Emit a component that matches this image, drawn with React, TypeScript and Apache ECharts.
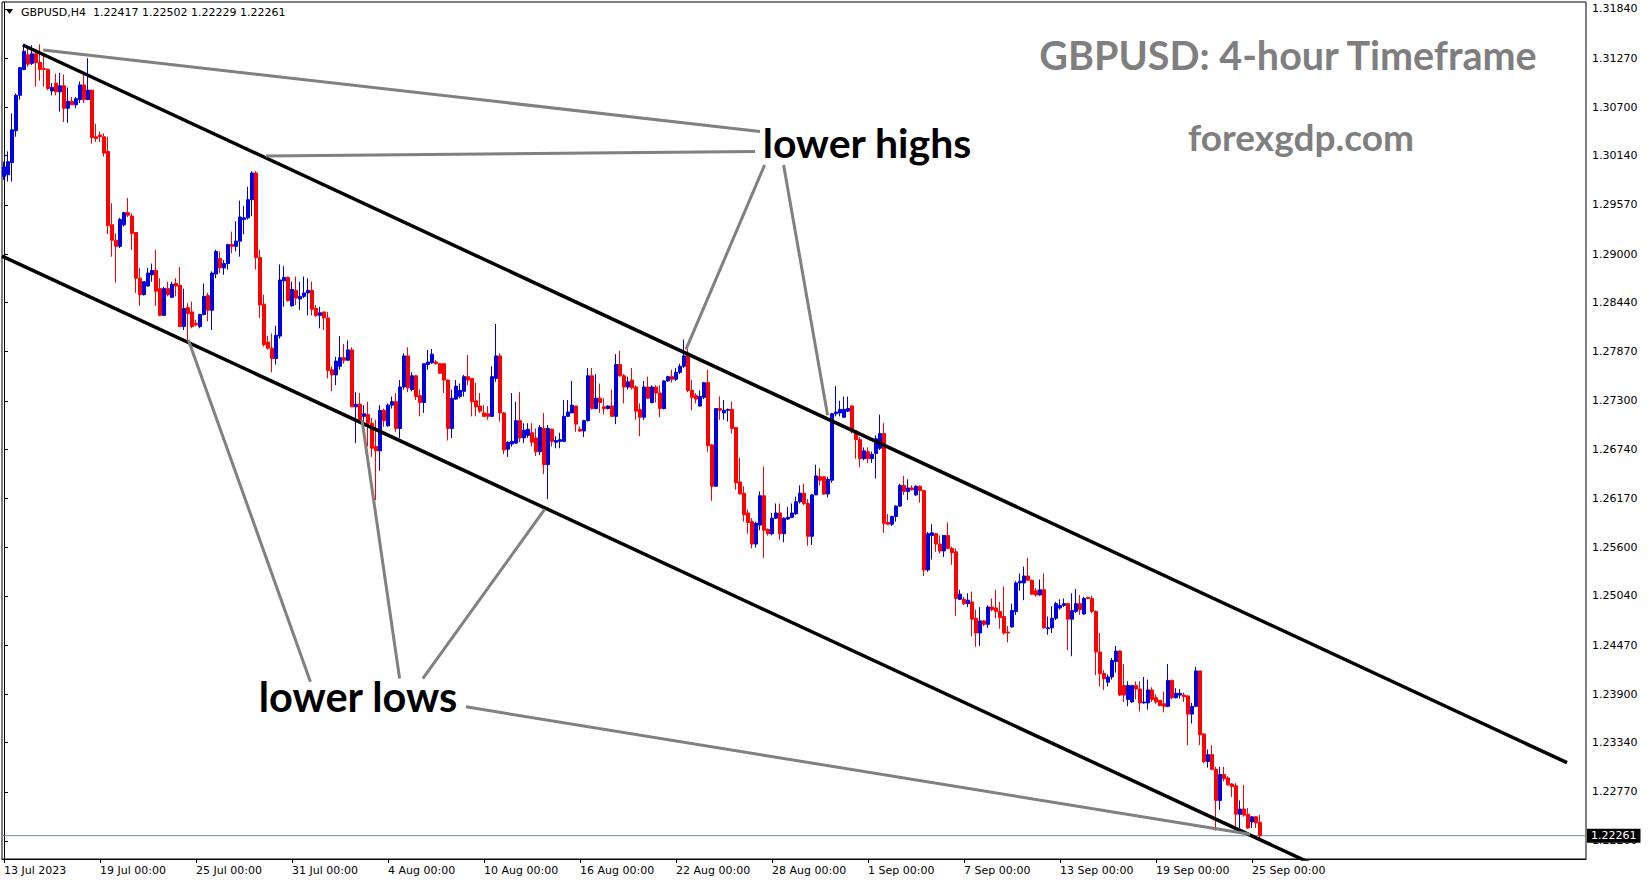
import React, { useEffect, useRef } from "react";
import * as echarts from "echarts";

// ---- Candle data: [open, high, low, close], H4, grouped by the x-axis label they start at ----
const jul13 = [
  [1.2990,1.3007,1.2986,1.3001],[1.2992,1.3019,1.2984,1.3007],[1.3006,1.3063,1.2984,1.3044],[1.3043,1.3086,1.3036,1.3084],
  [1.3084,1.3117,1.3079,1.3116],[1.3114,1.3142,1.3113,1.3135],[1.3131,1.3140,1.3117,1.3120],[1.3121,1.3142,1.3119,1.3132],
  [1.3132,1.3137,1.3094,1.3122],[1.3122,1.3143,1.3101,1.3114],[1.3115,1.3133,1.3094,1.3114],[1.3114,1.3115,1.3090,1.3092],
  [1.3089,1.3098,1.3084,1.3093],[1.3098,1.3109,1.3084,1.3088],[1.3088,1.3110,1.3065,1.3095],[1.3095,1.3108,1.3053,1.3069],
  [1.3069,1.3093,1.3052,1.3077],[1.3077,1.3082,1.3073,1.3073],[1.3073,1.3082,1.3069,1.3080],[1.3079,1.3100,1.3075,1.3096],
  [1.3096,1.3108,1.3075,1.3079],[1.3079,1.3127,1.3079,1.3090],[1.3090,1.3090,1.3028,1.3035],[1.3036,1.3051,1.3030,1.3034],
];
const jul19 = [
  [1.3038,1.3042,1.3030,1.3036],[1.3036,1.3040,1.3013,1.3017],[1.3019,1.3036,1.2923,1.2933],[1.2934,1.2959,1.2897,1.2916],
  [1.2916,1.2924,1.2867,1.2909],[1.2909,1.2942,1.2907,1.2940],[1.2934,1.2949,1.2932,1.2948],[1.2948,1.2965,1.2943,1.2945],
  [1.2944,1.2947,1.2905,1.2924],[1.2925,1.2925,1.2855,1.2872],[1.2872,1.2884,1.2840,1.2853],[1.2853,1.2868,1.2852,1.2868],
  [1.2863,1.2884,1.2862,1.2878],[1.2876,1.2889,1.2868,1.2881],[1.2881,1.2905,1.2840,1.2857],[1.2860,1.2872,1.2828,1.2829],
  [1.2829,1.2862,1.2829,1.2860],[1.2860,1.2868,1.2851,1.2853],[1.2850,1.2868,1.2849,1.2865],[1.2866,1.2872,1.2851,1.2863],
  [1.2864,1.2885,1.2816,1.2816],[1.2816,1.2860,1.2812,1.2837],[1.2838,1.2843,1.2799,1.2831],[1.2833,1.2845,1.2814,1.2816],
];
const jul25 = [
  [1.2820,1.2824,1.2816,1.2818],[1.2816,1.2831,1.2814,1.2830],[1.2830,1.2866,1.2829,1.2851],[1.2852,1.2855,1.2822,1.2835],
  [1.2835,1.2880,1.2812,1.2878],[1.2877,1.2905,1.2872,1.2903],[1.2895,1.2903,1.2878,1.2884],[1.2884,1.2893,1.2876,1.2889],
  [1.2889,1.2912,1.2882,1.2911],[1.2911,1.2926,1.2901,1.2909],[1.2909,1.2938,1.2903,1.2915],[1.2915,1.2962,1.2897,1.2943],
  [1.2940,1.2956,1.2923,1.2942],[1.2942,1.2978,1.2940,1.2963],[1.2963,1.2996,1.2944,1.2994],[1.2994,1.2996,1.2882,1.2896],
  [1.2896,1.2905,1.2826,1.2841],[1.2842,1.2853,1.2793,1.2795],[1.2798,1.2805,1.2789,1.2791],[1.2791,1.2808,1.2763,1.2779],
  [1.2779,1.2817,1.2772,1.2806],[1.2805,1.2888,1.2802,1.2870],[1.2869,1.2886,1.2839,1.2873],[1.2873,1.2874,1.2845,1.2846],
];
const jul31 = [
  [1.2840,1.2868,1.2839,1.2859],[1.2858,1.2874,1.2841,1.2849],[1.2848,1.2868,1.2835,1.2851],[1.2851,1.2874,1.2849,1.2855],
  [1.2855,1.2872,1.2829,1.2858],[1.2858,1.2868,1.2829,1.2836],[1.2837,1.2841,1.2827,1.2829],[1.2829,1.2839,1.2814,1.2832],
  [1.2833,1.2833,1.2812,1.2826],[1.2826,1.2833,1.2756,1.2765],[1.2766,1.2770,1.2741,1.2760],[1.2760,1.2781,1.2748,1.2776],
  [1.2770,1.2805,1.2766,1.2780],[1.2780,1.2796,1.2773,1.2777],[1.2777,1.2800,1.2777,1.2789],[1.2789,1.2792,1.2723,1.2723],
  [1.2723,1.2740,1.2681,1.2726],[1.2726,1.2739,1.2704,1.2708],[1.2712,1.2725,1.2702,1.2715],[1.2714,1.2729,1.2677,1.2704],
  [1.2704,1.2710,1.2665,1.2675],[1.2677,1.2708,1.2615,1.2672],[1.2672,1.2725,1.2649,1.2719],[1.2719,1.2721,1.2700,1.2707],
];
const aug04 = [
  [1.2701,1.2727,1.2700,1.2725],[1.2725,1.2735,1.2721,1.2729],[1.2729,1.2739,1.2694,1.2698],[1.2698,1.2754,1.2687,1.2746],
  [1.2746,1.2785,1.2743,1.2782],[1.2782,1.2792,1.2740,1.2745],[1.2743,1.2763,1.2741,1.2759],[1.2759,1.2760,1.2731,1.2735],
  [1.2736,1.2743,1.2712,1.2728],[1.2728,1.2773,1.2716,1.2773],[1.2772,1.2789,1.2766,1.2775],[1.2774,1.2790,1.2773,1.2784],
  [1.2775,1.2777,1.2772,1.2773],[1.2773,1.2773,1.2761,1.2762],[1.2773,1.2773,1.2739,1.2754],[1.2754,1.2755,1.2684,1.2698],
  [1.2698,1.2743,1.2687,1.2733],[1.2732,1.2754,1.2731,1.2747],[1.2735,1.2750,1.2733,1.2742],[1.2741,1.2760,1.2735,1.2758],
  [1.2758,1.2783,1.2748,1.2754],[1.2756,1.2756,1.2712,1.2729],[1.2730,1.2751,1.2712,1.2723],[1.2724,1.2739,1.2716,1.2718],
];
const aug10 = [
  [1.2716,1.2725,1.2712,1.2712],[1.2715,1.2724,1.2708,1.2712],[1.2712,1.2770,1.2712,1.2758],[1.2756,1.2819,1.2752,1.2782],
  [1.2782,1.2785,1.2706,1.2716],[1.2716,1.2717,1.2668,1.2673],[1.2674,1.2683,1.2665,1.2682],[1.2680,1.2739,1.2677,1.2683],
  [1.2681,1.2729,1.2680,1.2707],[1.2707,1.2740,1.2682,1.2687],[1.2687,1.2704,1.2681,1.2696],[1.2690,1.2704,1.2687,1.2697],
  [1.2693,1.2704,1.2677,1.2682],[1.2687,1.2698,1.2666,1.2671],[1.2671,1.2702,1.2667,1.2699],[1.2698,1.2716,1.2645,1.2656],
  [1.2656,1.2702,1.2616,1.2698],[1.2697,1.2698,1.2677,1.2683],[1.2682,1.2689,1.2675,1.2684],[1.2683,1.2693,1.2675,1.2685],
  [1.2683,1.2731,1.2682,1.2712],[1.2712,1.2731,1.2712,1.2717],[1.2716,1.2753,1.2716,1.2725],[1.2724,1.2724,1.2694,1.2703],
];
const aug16 = [
  [1.2697,1.2700,1.2694,1.2695],[1.2695,1.2708,1.2688,1.2707],[1.2707,1.2768,1.2706,1.2759],[1.2759,1.2768,1.2720,1.2721],
  [1.2721,1.2761,1.2720,1.2733],[1.2733,1.2750,1.2716,1.2728],[1.2723,1.2733,1.2714,1.2721],[1.2721,1.2725,1.2720,1.2724],
  [1.2724,1.2743,1.2712,1.2712],[1.2712,1.2784,1.2703,1.2772],[1.2772,1.2788,1.2758,1.2759],[1.2759,1.2761,1.2727,1.2746],
  [1.2746,1.2758,1.2743,1.2752],[1.2754,1.2768,1.2743,1.2745],[1.2746,1.2748,1.2708,1.2718],[1.2720,1.2727,1.2689,1.2711],
  [1.2711,1.2753,1.2708,1.2746],[1.2746,1.2758,1.2732,1.2733],[1.2728,1.2748,1.2727,1.2746],[1.2746,1.2748,1.2728,1.2739],
  [1.2739,1.2748,1.2711,1.2721],[1.2721,1.2754,1.2720,1.2753],[1.2753,1.2759,1.2752,1.2758],[1.2758,1.2766,1.2751,1.2755],
];
const aug22 = [
  [1.2755,1.2768,1.2753,1.2763],[1.2763,1.2773,1.2761,1.2770],[1.2770,1.2801,1.2768,1.2782],[1.2785,1.2790,1.2740,1.2742],
  [1.2742,1.2754,1.2719,1.2734],[1.2736,1.2739,1.2727,1.2732],[1.2724,1.2742,1.2723,1.2735],[1.2734,1.2752,1.2732,1.2751],
  [1.2751,1.2766,1.2671,1.2678],[1.2679,1.2680,1.2614,1.2631],[1.2631,1.2721,1.2631,1.2721],[1.2721,1.2735,1.2708,1.2719],
  [1.2716,1.2731,1.2708,1.2719],[1.2719,1.2721,1.2706,1.2720],[1.2720,1.2729,1.2692,1.2698],[1.2699,1.2699,1.2627,1.2635],
  [1.2636,1.2664,1.2622,1.2622],[1.2623,1.2631,1.2590,1.2598],[1.2600,1.2604,1.2576,1.2589],[1.2590,1.2594,1.2559,1.2564],
  [1.2564,1.2590,1.2560,1.2588],[1.2586,1.2625,1.2580,1.2620],[1.2620,1.2654,1.2548,1.2580],[1.2581,1.2582,1.2574,1.2576],
];
const aug28 = [
  [1.2576,1.2600,1.2574,1.2594],[1.2594,1.2611,1.2593,1.2600],[1.2600,1.2611,1.2569,1.2576],[1.2576,1.2595,1.2566,1.2594],
  [1.2593,1.2607,1.2592,1.2595],[1.2595,1.2611,1.2594,1.2600],[1.2599,1.2619,1.2598,1.2613],[1.2613,1.2632,1.2611,1.2623],
  [1.2623,1.2634,1.2609,1.2611],[1.2611,1.2616,1.2562,1.2573],[1.2573,1.2622,1.2563,1.2621],[1.2621,1.2656,1.2621,1.2643],
  [1.2642,1.2652,1.2632,1.2638],[1.2642,1.2643,1.2621,1.2622],[1.2622,1.2642,1.2618,1.2639],[1.2638,1.2716,1.2635,1.2715],
  [1.2715,1.2747,1.2712,1.2717],[1.2716,1.2730,1.2712,1.2720],[1.2711,1.2735,1.2710,1.2720],[1.2718,1.2735,1.2717,1.2721],
  [1.2724,1.2725,1.2692,1.2695],[1.2695,1.2696,1.2663,1.2685],[1.2685,1.2688,1.2653,1.2663],[1.2663,1.2676,1.2661,1.2672],
];
const sep01 = [
  [1.2671,1.2676,1.2658,1.2663],[1.2663,1.2671,1.2658,1.2668],[1.2669,1.2690,1.2640,1.2686],[1.2675,1.2714,1.2673,1.2692],
  [1.2692,1.2704,1.2577,1.2588],[1.2589,1.2599,1.2586,1.2587],[1.2587,1.2597,1.2585,1.2596],[1.2596,1.2609,1.2590,1.2608],
  [1.2608,1.2634,1.2607,1.2632],[1.2632,1.2643,1.2621,1.2625],[1.2625,1.2639,1.2615,1.2629],[1.2629,1.2632,1.2626,1.2627],
  [1.2621,1.2632,1.2620,1.2631],[1.2631,1.2632,1.2612,1.2626],[1.2626,1.2627,1.2527,1.2534],[1.2534,1.2578,1.2532,1.2576],
  [1.2574,1.2587,1.2546,1.2577],[1.2576,1.2577,1.2555,1.2564],[1.2564,1.2574,1.2553,1.2556],[1.2556,1.2574,1.2549,1.2574],
  [1.2574,1.2589,1.2558,1.2559],[1.2559,1.2561,1.2540,1.2554],[1.2555,1.2559,1.2481,1.2501],[1.2500,1.2511,1.2499,1.2506],
];
const sep07 = [
  [1.2500,1.2503,1.2493,1.2495],[1.2495,1.2507,1.2491,1.2499],[1.2497,1.2509,1.2457,1.2477],[1.2478,1.2488,1.2445,1.2461],
  [1.2461,1.2491,1.2446,1.2475],[1.2475,1.2476,1.2469,1.2471],[1.2471,1.2493,1.2467,1.2491],[1.2491,1.2501,1.2486,1.2488],
  [1.2490,1.2511,1.2478,1.2486],[1.2486,1.2497,1.2466,1.2479],[1.2480,1.2515,1.2459,1.2461],[1.2462,1.2469,1.2450,1.2461],
  [1.2468,1.2495,1.2467,1.2487],[1.2486,1.2521,1.2482,1.2519],[1.2519,1.2530,1.2510,1.2521],[1.2519,1.2538,1.2499,1.2527],
  [1.2527,1.2548,1.2521,1.2522],[1.2522,1.2523,1.2505,1.2506],[1.2510,1.2513,1.2503,1.2505],[1.2505,1.2523,1.2504,1.2511],
  [1.2511,1.2530,1.2466,1.2467],[1.2466,1.2480,1.2459,1.2467],[1.2467,1.2492,1.2461,1.2478],[1.2478,1.2497,1.2476,1.2495],
];
const sep13 = [
  [1.2490,1.2500,1.2488,1.2493],[1.2493,1.2501,1.2491,1.2495],[1.2495,1.2496,1.2441,1.2477],[1.2477,1.2507,1.2434,1.2487],
  [1.2486,1.2512,1.2484,1.2495],[1.2495,1.2505,1.2482,1.2488],[1.2483,1.2503,1.2482,1.2501],[1.2502,1.2503,1.2500,1.2501],
  [1.2501,1.2504,1.2484,1.2486],[1.2486,1.2487,1.2412,1.2439],[1.2439,1.2461,1.2399,1.2414],[1.2414,1.2418,1.2395,1.2408],
  [1.2404,1.2413,1.2399,1.2410],[1.2410,1.2432,1.2407,1.2429],[1.2428,1.2446,1.2415,1.2440],[1.2440,1.2441,1.2388,1.2389],
  [1.2400,1.2425,1.2381,1.2389],[1.2384,1.2405,1.2376,1.2400],[1.2381,1.2401,1.2380,1.2400],[1.2400,1.2405,1.2384,1.2396],
  [1.2396,1.2405,1.2370,1.2380],[1.2380,1.2410,1.2379,1.2381],[1.2380,1.2407,1.2372,1.2395],[1.2395,1.2398,1.2381,1.2384],
];
const sep19 = [
  [1.2386,1.2390,1.2379,1.2381],[1.2383,1.2383,1.2376,1.2377],[1.2379,1.2393,1.2369,1.2376],[1.2376,1.2425,1.2375,1.2406],
  [1.2406,1.2407,1.2384,1.2386],[1.2386,1.2397,1.2385,1.2391],[1.2389,1.2396,1.2385,1.2391],[1.2389,1.2392,1.2381,1.2387],
  [1.2388,1.2389,1.2331,1.2367],[1.2367,1.2380,1.2356,1.2376],[1.2376,1.2422,1.2375,1.2417],[1.2417,1.2417,1.2331,1.2343],
  [1.2344,1.2345,1.2310,1.2312],[1.2312,1.2326,1.2305,1.2320],[1.2320,1.2331,1.2302,1.2303],[1.2303,1.2306,1.2232,1.2267],
  [1.2267,1.2306,1.2256,1.2297],[1.2297,1.2306,1.2289,1.2292],[1.2293,1.2295,1.2284,1.2285],[1.2286,1.2287,1.2271,1.2283],
  [1.2284,1.2287,1.2234,1.2251],[1.2251,1.2267,1.2235,1.2257],[1.2257,1.2285,1.2248,1.2250],[1.2251,1.2258,1.2234,1.2235],
];
const sep25 = [
  [1.2242,1.2249,1.2235,1.2248],[1.2248,1.2249,1.2235,1.2241],[1.22417,1.22502,1.22229,1.22261],
];

// ---- Axis ticks ----
const yTicks = [1.3184,1.3127,1.307,1.3014,1.2957,1.29,1.2844,1.2787,1.273,1.2674,1.2617,1.256,1.2504,1.2447,1.239,1.2334,1.2277,1.222];
const xTickIndex = [0,24,48,72,96,120,144,168,192,216,240,264,288,312];
const xTickLabels = ["13 Jul 2023","19 Jul 00:00","25 Jul 00:00","31 Jul 00:00","4 Aug 00:00","10 Aug 00:00","16 Aug 00:00","22 Aug 00:00","28 Aug 00:00","1 Sep 00:00","7 Sep 00:00","13 Sep 00:00","19 Sep 00:00","25 Sep 00:00"];
const totalSlots = 396;
const priceMin = 1.21991;
const priceMax = 1.31921;

// ---- Drawn trend lines, in [candle index, price] ----
const upperChannel = [[4.7, 1.31423], [390.75, 1.23107]];
const lowerChannel = [[-0.5, 1.28977], [330, 1.21871]];
const lowerHighsLines = [
  [[9.8, 1.31365], [189, 1.3042]],
  [[65.5, 1.30136], [187.75, 1.3019]],
  [[190.15, 1.30032], [170.5, 1.27896]],
  [[194.9, 1.30032], [205.9, 1.27134]],
];
const lowerLowsLines = [
  [[46.1, 1.28004], [76.6, 1.24046]],
  [[89.5, 1.27077], [98.9, 1.24082]],
  [[135.2, 1.26045], [104.7, 1.24082]],
  [[115.5, 1.23754], [311.5, 1.22278]],
];

const ohlc = [...jul13, ...jul19, ...jul25, ...jul31, ...aug04, ...aug10, ...aug16, ...aug22, ...aug28, ...sep01, ...sep07, ...sep13, ...sep19, ...sep25];

function buildOption() {
  const categories = Array.from({ length: totalSlots }, (_, i) => String(i));
  const labelAt = new Map<number, string>(xTickIndex.map((i, k) => [i, xTickLabels[k]]));
  const last = ohlc[ohlc.length - 1];
  const lastClose = last[3];
  const header = "GBPUSD,H4  " + last.map((v) => v.toFixed(5)).join(" ");
  const bull = "#0000dd";
  const bear = "#ff0000";
  const font = "DejaVu Sans";
  const lineSeries = (data: number[][], color: string, width: number) => ({
    type: "line",
    xAxisIndex: 1,
    yAxisIndex: 0,
    data,
    symbol: "none",
    showSymbol: false,
    silent: true,
    clip: true,
    z: 5,
    lineStyle: { color, width, cap: "butt" },
  });
  const textStyle = (text: string, size: number, fill: string) => ({
    text,
    font: `bold ${size}px Lato`,
    fill,
    align: "center",
    textAlign: "center",
    verticalAlign: "middle",
    textVerticalAlign: "middle",
  });
  return {
    animation: false,
    backgroundColor: "#ffffff",
    grid: { left: 2, top: 2, right: 63, bottom: 25, show: true, borderColor: "#000", borderWidth: 1, backgroundColor: "transparent" },
    xAxis: [
      {
        type: "category",
        data: categories,
        boundaryGap: true,
        axisLine: { show: true, lineStyle: { color: "#000", width: 1 } },
        axisTick: { show: true, interval: (i: number) => labelAt.has(i), alignWithLabel: true, length: 4, lineStyle: { color: "#000" } },
        axisLabel: {
          show: true,
          interval: (i: number) => labelAt.has(i),
          formatter: (v: string) => labelAt.get(Number(v)) ?? "",
          align: "left",
          margin: 6,
          color: "#000",
          fontFamily: font,
          fontSize: 11,
        },
        splitLine: { show: false },
      },
      { type: "value", min: -0.5, max: totalSlots - 0.5, show: false },
    ],
    yAxis: {
      type: "value",
      position: "right",
      min: priceMin,
      max: priceMax,
      axisLine: { show: true, lineStyle: { color: "#000", width: 1 } },
      axisTick: { show: true, customValues: yTicks, length: 4, lineStyle: { color: "#000" } },
      axisLabel: { show: true, customValues: yTicks, formatter: (v: number) => v.toFixed(5), margin: 6, color: "#000", fontFamily: font, fontSize: 11 },
      splitLine: { show: false },
    },
    graphic: [
      { type: "polygon", shape: { points: [[6, 9], [13, 9], [9.5, 14]] }, style: { fill: "#000" } },
      { type: "text", x: 21, y: 12.5, style: { text: header, font: `11px "${font}"`, fill: "#000", verticalAlign: "middle", textVerticalAlign: "middle" } },
      { type: "text", x: 1288, y: 54, z: 10, style: textStyle("GBPUSD: 4-hour Timeframe", 39.5, "#7f7f7f") },
      { type: "text", x: 1301, y: 136, z: 10, style: textStyle("forexgdp.com", 37, "#7f7f7f") },
      { type: "text", x: 867, y: 142, z: 10, style: textStyle("lower highs", 41, "#000") },
      { type: "text", x: 358, y: 696, z: 10, style: textStyle("lower lows", 41.5, "#000") },
    ],
    series: [
      {
        type: "candlestick",
        xAxisIndex: 0,
        yAxisIndex: 0,
        barWidth: 3,
        data: ohlc.map(([o, h, l, c]) => [o, c, l, h]),
        itemStyle: { color: bull, color0: bear, borderColor: bull, borderColor0: bear, borderColorDoji: bear, borderWidth: 1 },
      },
      {
        type: "line",
        xAxisIndex: 1,
        yAxisIndex: 0,
        data: [[-0.5, lastClose], [totalSlots - 0.5, lastClose]],
        symbol: "none",
        showSymbol: false,
        silent: true,
        clip: false,
        z: 1,
        lineStyle: { color: "#778899", width: 1 },
        endLabel: {
          show: true,
          distance: 1,
          formatter: () => lastClose.toFixed(5),
          backgroundColor: "#000",
          color: "#fff",
          padding: [2, 4, 1, 4],
          fontFamily: font,
          fontSize: 11,
        },
      },
      lineSeries(upperChannel, "#000", 3.5),
      lineSeries(lowerChannel, "#000", 3.5),
      ...lowerHighsLines.map((d) => lineSeries(d, "#808080", 3)),
      ...lowerLowsLines.map((d) => lineSeries(d, "#808080", 3)),
    ],
  };
}

export default function App() {
  const ref = useRef<HTMLDivElement>(null);
  useEffect(() => {
    if (!ref.current) return;
    const chart = echarts.init(ref.current, null, { renderer: "svg" });
    chart.setOption(buildOption() as any);
    return () => chart.dispose();
  }, []);
  return <div ref={ref} style={{ position: "absolute", left: 0, top: 0, width: 1649, height: 884, background: "#fff" }} />;
}
